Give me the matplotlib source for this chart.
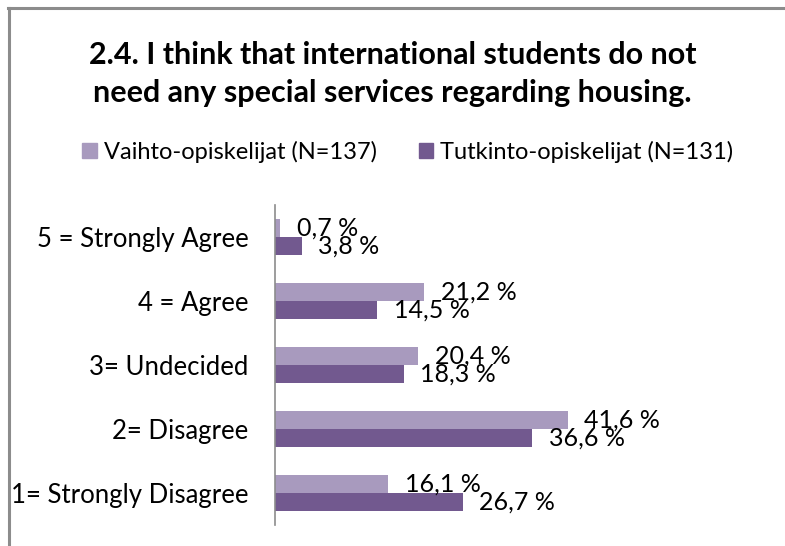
import matplotlib
matplotlib.use("Agg")
import matplotlib.pyplot as plt
import numpy as np
from matplotlib.lines import Line2D
from matplotlib.patches import Patch

categories = ["5 = Strongly Agree", "4 = Agree", "3= Undecided", "2= Disagree", "1= Strongly Disagree"]
vaihto = [0.7, 21.2, 20.4, 41.6, 16.1]
tutkinto = [3.8, 14.5, 18.3, 36.6, 26.7]
series_names = ["Vaihto-opiskelijat (N=137)", "Tutkinto-opiskelijat (N=131)"]
title = "2.4. I think that international students do not\nneed any special services regarding housing."

c_light = "#A89ABE"
c_dark = "#72598F"
font = "Lato"

W, H = 785, 546
fig = plt.figure(figsize=(W / 100, H / 100), dpi=100)
fig.patch.set_facecolor("white")

# frame (top and left visible)
fig.add_artist(Line2D([8 / W, 1], [1 - 8 / H, 1 - 8 / H], color="#8c8c8c", lw=2.2, transform=fig.transFigure))
fig.add_artist(Line2D([9 / W, 9 / W], [0, 1 - 8 / H], color="#8c8c8c", lw=2.2, transform=fig.transFigure))

left, right = 275 / W, 697 / W
top, bottom = 1 - 205 / H, 1 - 525 / H
ax = fig.add_axes([left, bottom, right - left, top - bottom])

y = np.arange(len(categories))
bh = 0.28
ax.barh(y - bh / 2, vaihto, height=bh, color=c_light, label=series_names[0])
ax.barh(y + bh / 2, tutkinto, height=bh, color=c_dark, label=series_names[1])

for yi, v in zip(y, vaihto):
    ax.annotate(f"{v:.1f} %".replace(".", ","), (v, yi - bh / 2), xytext=(12, 0),
                textcoords="offset points", va="center", ha="left", fontsize=18, family=font)
for yi, v in zip(y, tutkinto):
    ax.annotate(f"{v:.1f} %".replace(".", ","), (v, yi + bh / 2), xytext=(12, 0),
                textcoords="offset points", va="center", ha="left", fontsize=18, family=font)

ax.set_xlim(0, 60)
ax.set_ylim(len(categories) - 0.5, -0.5)
ax.set_yticks(y)
ax.set_yticklabels(categories, fontsize=18.5, family=font)
ax.tick_params(axis="y", length=0, pad=19)
ax.set_xticks([])
for s in ["top", "right", "bottom"]:
    ax.spines[s].set_visible(False)
ax.spines["left"].set_color("#8c8c8c")
ax.spines["left"].set_linewidth(1.2)

fig.text(0.5, 1 - 74 / H, title, ha="center", va="center", fontsize=22, fontweight="bold",
         family=font, linespacing=1.42)

handles = [Patch(color=c_light), Patch(color=c_dark)]
fig.legend(handles, series_names, loc="center", bbox_to_anchor=(408 / W, 1 - 152 / H), ncol=2,
           frameon=False, prop={"family": font, "size": 17}, handlelength=0.6, handleheight=0.6,
           handletextpad=0.3, columnspacing=1.8)

fig.savefig("out.png", dpi=100)
